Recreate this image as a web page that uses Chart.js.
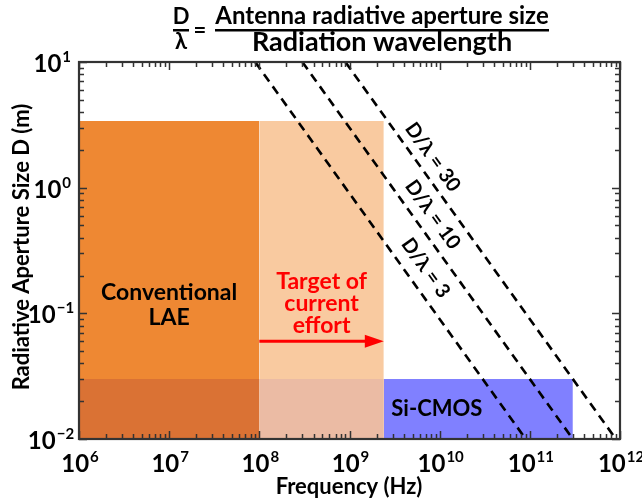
<!DOCTYPE html>
<html>
<head>
<meta charset="utf-8">
<script src="https://cdn.jsdelivr.net/npm/chart.js@4"></script>
<style>
  html, body { margin: 0; padding: 0; background: #fff; }
  #wrap { width: 642px; height: 499px; }
</style>
</head>
<body>
<div id="wrap"><canvas id="chart" width="642" height="499"></canvas></div>
<script>
// Axis ticks (powers of ten)
const xTickExps = [6, 7, 8, 9, 10, 11, 12];
const yTickExps = [-2, -1, 0, 1];

// Shaded regions (frequency in Hz, size D in m)
const conventionalX = [1e6, 1e8];
const targetX = [1e8, 2.4e9];
const siCmosX = [2.4e9, 3e11];
const regionTop = [3.4, 3.4];
const siCmosTop = [0.03, 0.03];

// D/lambda lines, read at the top (D = 10 m) and bottom (D = 0.01 m) of the plot
const ratioLabels = ['D/λ = 3', 'D/λ = 10', 'D/λ = 30'];
const ratioFreq = [[9e7, 9e10], [3e8, 3e11], [9e8, 9e11]];
const ratioD = [10, 0.01];
const ratioLabelPos = [[7.0e9, 0.23], [8.4e9, 0.61], [8.4e9, 1.75]];

// Text labels inside the plot
const conventionalText = ['Conventional', 'LAE'];
const conventionalPos = [[1e7, 0.145], [1e7, 0.092]];
const targetText = ['Target of', 'current', 'effort'];
const targetPos = [[4.9e8, 0.178], [4.9e8, 0.12], [4.9e8, 0.08]];
const siCmosText = 'Si-CMOS';
const siCmosPos = [9.3e9, 0.0174];
const arrowX = [1e8, 2.4e9];
const arrowD = 0.06;

const FONT = 'Lato, "Open Sans", sans-serif';
const AXIS = '#333333';

const toPts = (xs, ys) => xs.map((x, i) => ({ x: x, y: ys[i] }));

const boxSet = (xs, ys, color, order) => ({
  data: toPts(xs, ys),
  backgroundColor: color,
  borderWidth: 0,
  pointRadius: 0,
  fill: 'start',
  order: order
});

const datasets = [
  ...ratioFreq.map(xs => ({
    data: toPts(xs, ratioD),
    borderColor: '#000',
    borderWidth: 2.6,
    borderDash: [9, 6],
    pointRadius: 0,
    fill: false,
    order: 0
  })),
  boxSet(conventionalX, siCmosTop, '#DA7234', 1),
  boxSet(targetX, siCmosTop, '#EBBBA4', 1),
  boxSet(siCmosX, siCmosTop, '#8080FF', 1),
  boxSet(conventionalX, regionTop, '#EE8833', 2),
  boxSet(targetX, regionTop, '#F9CAA0', 2)
];

// Draw "10" with a raised exponent
const drawPow = (ctx, exp, x, y, align) => {
  const base = 'bold 24px ' + FONT;
  const sup = 'bold 15px ' + FONT;
  ctx.font = base;
  const w1 = ctx.measureText('10').width;
  ctx.font = sup;
  const w2 = ctx.measureText(String(exp)).width;
  const total = w1 + w2 + 1;
  let left = align === 'right' ? x - total : x - total / 2;
  ctx.textAlign = 'left';
  ctx.textBaseline = 'alphabetic';
  ctx.fillStyle = '#000';
  ctx.font = base;
  ctx.fillText('10', left, y);
  ctx.font = sup;
  ctx.fillText(String(exp).replace('-', '\u2212'), left + w1 + 1, y - 10);
};

const decorPlugin = {
  id: 'decor',
  beforeDraw(chart) {
    const ctx = chart.ctx;
    ctx.save();
    ctx.fillStyle = '#fff';
    ctx.fillRect(0, 0, chart.width, chart.height);
    ctx.restore();
  },
  afterDatasetsDraw(chart) {
    const ctx = chart.ctx;
    const xs = chart.scales.x, ys = chart.scales.y;
    const a = chart.chartArea;
    ctx.save();

    // labels along the dashed lines
    const ang = Math.atan2(
      ys.getPixelForValue(0.1) - ys.getPixelForValue(1),
      xs.getPixelForValue(1e10) - xs.getPixelForValue(1e9)
    );
    ctx.font = 'bold 20px ' + FONT;
    ctx.fillStyle = '#000';
    ctx.textAlign = 'center';
    ctx.textBaseline = 'middle';
    ratioLabels.forEach((t, i) => {
      ctx.save();
      ctx.translate(xs.getPixelForValue(ratioLabelPos[i][0]), ys.getPixelForValue(ratioLabelPos[i][1]));
      ctx.rotate(ang);
      ctx.fillText(t, 0, 0);
      ctx.restore();
    });

    // region labels
    ctx.font = 'bold 23px ' + FONT;
    conventionalText.forEach((t, i) => {
      ctx.fillText(t, xs.getPixelForValue(conventionalPos[i][0]), ys.getPixelForValue(conventionalPos[i][1]));
    });
    ctx.font = 'bold 22px ' + FONT;
    ctx.fillText(siCmosText, xs.getPixelForValue(siCmosPos[0]), ys.getPixelForValue(siCmosPos[1]));
    ctx.fillStyle = '#FF0000';
    ctx.font = 'bold 23px ' + FONT;
    targetText.forEach((t, i) => {
      ctx.fillText(t, xs.getPixelForValue(targetPos[i][0]), ys.getPixelForValue(targetPos[i][1]));
    });

    // arrow
    const ax0 = xs.getPixelForValue(arrowX[0]);
    const ax1 = xs.getPixelForValue(arrowX[1]);
    const ay = ys.getPixelForValue(arrowD);
    ctx.strokeStyle = '#FF0000';
    ctx.lineWidth = 3;
    ctx.beginPath();
    ctx.moveTo(ax0, ay);
    ctx.lineTo(ax1 - 14, ay);
    ctx.stroke();
    ctx.beginPath();
    ctx.moveTo(ax1, ay);
    ctx.lineTo(ax1 - 19, ay - 6.5);
    ctx.lineTo(ax1 - 19, ay + 6.5);
    ctx.closePath();
    ctx.fill();

    // inward ticks on all four sides
    ctx.strokeStyle = AXIS;
    ctx.lineWidth = 1.5;
    ctx.beginPath();
    for (let e = xTickExps[0]; e < xTickExps[xTickExps.length - 1] + 1; e++) {
      for (let m = 1; m <= 9; m++) {
        const v = m * Math.pow(10, e);
        if (v > Math.pow(10, xTickExps[xTickExps.length - 1])) break;
        const px = Math.round(xs.getPixelForValue(v)) + 0.5;
        const len = m === 1 ? 8 : 5;
        ctx.moveTo(px, a.bottom); ctx.lineTo(px, a.bottom - len);
        ctx.moveTo(px, a.top); ctx.lineTo(px, a.top + len);
      }
    }
    for (let e = yTickExps[0]; e < yTickExps[yTickExps.length - 1] + 1; e++) {
      for (let m = 1; m <= 9; m++) {
        const v = m * Math.pow(10, e);
        if (v > Math.pow(10, yTickExps[yTickExps.length - 1])) break;
        const py = Math.round(ys.getPixelForValue(v)) + 0.5;
        const len = m === 1 ? 8 : 5;
        ctx.moveTo(a.left, py); ctx.lineTo(a.left + len, py);
        ctx.moveTo(a.right, py); ctx.lineTo(a.right - len, py);
      }
    }
    ctx.stroke();

    // frame
    ctx.lineWidth = 2.2;
    ctx.strokeRect(a.left, a.top, a.right - a.left, a.bottom - a.top);

    // tick labels
    xTickExps.forEach(e => drawPow(ctx, e, xs.getPixelForValue(Math.pow(10, e)) + 1, a.bottom + 33, 'center'));
    yTickExps.forEach(e => drawPow(ctx, e, a.left - 8, ys.getPixelForValue(Math.pow(10, e)) + 10, 'right'));

    // axis titles
    ctx.fillStyle = '#000';
    ctx.textAlign = 'center';
    ctx.textBaseline = 'middle';
    ctx.font = 'bold 22px ' + FONT;
    ctx.fillText('Frequency (Hz)', 349, 487);
    ctx.save();
    ctx.translate(22, 247);
    ctx.rotate(-Math.PI / 2);
    ctx.fillText('Radiative Aperture Size D (m)', 0, 0);
    ctx.restore();

    // title: D/lambda = numerator / denominator
    ctx.font = 'bold 22px ' + FONT;
    ctx.fillText('D', 181, 17);
    ctx.fillText('λ', 181, 42);
    ctx.fillText('=', 200, 31);
    ctx.font = 'bold 24px ' + FONT;
    ctx.fillText('Antenna radiative aperture size', 382, 16);
    ctx.font = 'bold 27px ' + FONT;
    ctx.fillText('Radiation wavelength', 382, 42);
    ctx.fillRect(173, 29, 16, 2.5);
    ctx.fillRect(215, 29, 334, 2.5);

    ctx.restore();
  }
};

new Chart(document.getElementById('chart'), {
  type: 'line',
  data: { datasets: datasets },
  options: {
    responsive: false,
    animation: false,
    events: [],
    layout: { padding: { left: 79, right: 22, top: 62, bottom: 60 } },
    scales: {
      x: {
        type: 'logarithmic',
        display: false,
        min: Math.pow(10, xTickExps[0]),
        max: Math.pow(10, xTickExps[xTickExps.length - 1])
      },
      y: {
        type: 'logarithmic',
        display: false,
        min: Math.pow(10, yTickExps[0]),
        max: Math.pow(10, yTickExps[yTickExps.length - 1])
      }
    },
    plugins: {
      legend: { display: false },
      tooltip: { enabled: false },
      filler: { propagate: false }
    }
  },
  plugins: [decorPlugin]
});
</script>
</body>
</html>
